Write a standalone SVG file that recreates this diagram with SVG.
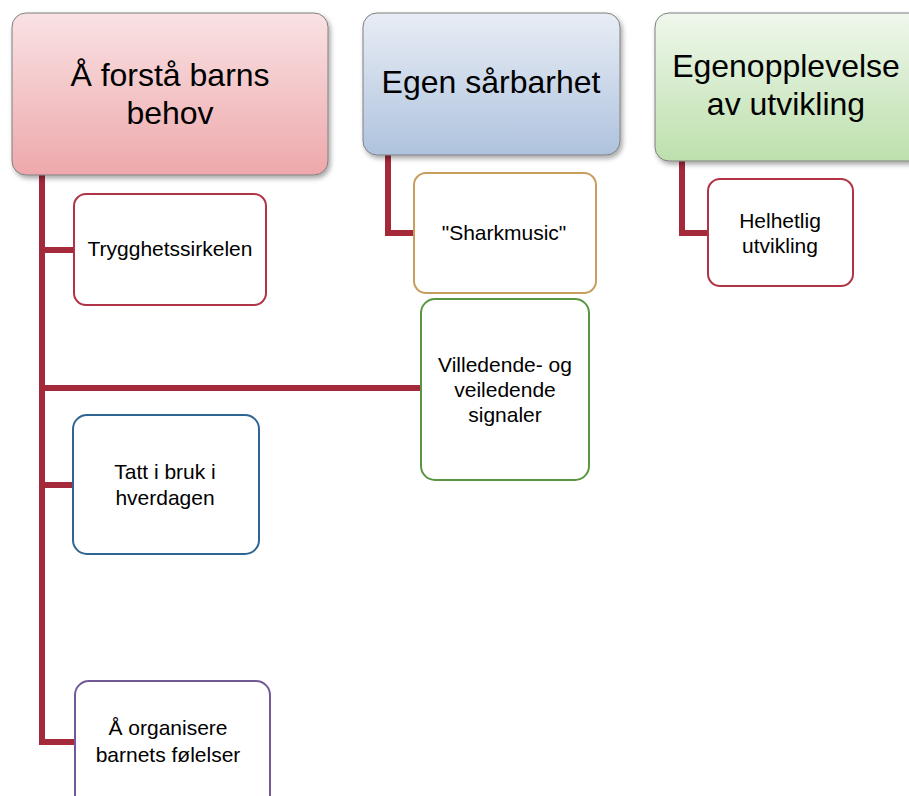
<svg xmlns="http://www.w3.org/2000/svg" width="909" height="796" viewBox="0 0 909 796">
<defs>
<linearGradient id="gPink" x1="0" y1="0" x2="0" y2="1"><stop offset="0" stop-color="#f9e2e4"/><stop offset="1" stop-color="#eea8ab"/></linearGradient>
<linearGradient id="gBlue" x1="0" y1="0" x2="0" y2="1"><stop offset="0" stop-color="#e8edf5"/><stop offset="1" stop-color="#afc3de"/></linearGradient>
<linearGradient id="gGreen" x1="0" y1="0" x2="0" y2="1"><stop offset="0" stop-color="#eff7ec"/><stop offset="1" stop-color="#bde0ad"/></linearGradient>
<filter id="sh" x="-10%" y="-10%" width="130%" height="130%"><feDropShadow dx="2" dy="3" stdDeviation="2.5" flood-color="#000" flood-opacity="0.35"/></filter>
</defs>
<style>
.hdr{stroke:#7f7f7f;stroke-width:1;filter:url(#sh)}
.box{fill:#fff;stroke-width:2}
.ht{font-family:"Liberation Sans",Arial,sans-serif;font-size:32px;fill:#000;text-anchor:middle}
.st{font-family:"Liberation Sans",Arial,sans-serif;font-size:21px;fill:#000;text-anchor:middle}
.con{fill:none;stroke:#a3293b;stroke-width:6;stroke-linejoin:miter}
</style>
<rect width="909" height="796" fill="#fff"/>
<g id="connectors">
<path class="con" d="M42,175 V742 H75"/>
<path class="con" d="M42,250 H74"/>
<path class="con" d="M42,388 H421"/>
<path class="con" d="M42,485 H73"/>
<path class="con" d="M388,155 V233 H414"/>
<path class="con" d="M682,161 V233 H708"/>
</g>
<g id="h1"><rect class="hdr" x="12" y="13" width="316" height="162" rx="14" fill="url(#gPink)"/>
<text class="ht" x="170" y="86">Å forstå barns</text><text class="ht" x="170" y="124">behov</text></g>
<g id="h2"><rect class="hdr" x="363" y="13" width="257" height="142" rx="14" fill="url(#gBlue)"/>
<text class="ht" x="491" y="93">Egen sårbarhet</text></g>
<g id="h3"><rect class="hdr" x="655" y="13" width="270" height="148" rx="14" fill="url(#gGreen)"/>
<text class="ht" x="786" y="77">Egenopplevelse</text><text class="ht" x="786" y="115">av utvikling</text></g>
<g id="n1"><rect class="box" x="74" y="194" width="192" height="111" rx="12" stroke="#b03446"/>
<text class="st" x="170" y="256">Trygghetssirkelen</text></g>
<g id="n2"><rect class="box" x="414" y="173" width="182" height="120" rx="12" stroke="#c99d5e"/>
<text class="st" x="504" y="240">"Sharkmusic"</text></g>
<g id="n3"><rect class="box" x="708" y="179" width="145" height="107" rx="12" stroke="#b03446"/>
<text class="st" x="780" y="228">Helhetlig</text><text class="st" x="780" y="253">utvikling</text></g>
<g id="n4"><rect class="box" x="421" y="299" width="168" height="181" rx="14" stroke="#5a9644"/>
<text class="st" x="505" y="372">Villedende- og</text><text class="st" x="505" y="397">veiledende</text><text class="st" x="505" y="422">signaler</text></g>
<g id="n5"><rect class="box" x="73" y="415" width="186" height="139" rx="14" stroke="#2f6593"/>
<text class="st" x="165" y="479">Tatt i bruk i</text><text class="st" x="165" y="505">hverdagen</text></g>
<g id="n6"><rect class="box" x="75" y="681" width="195" height="130" rx="14" stroke="#735a96"/>
<text class="st" x="168" y="735">Å organisere</text><text class="st" x="168" y="762">barnets følelser</text></g>
</svg>
